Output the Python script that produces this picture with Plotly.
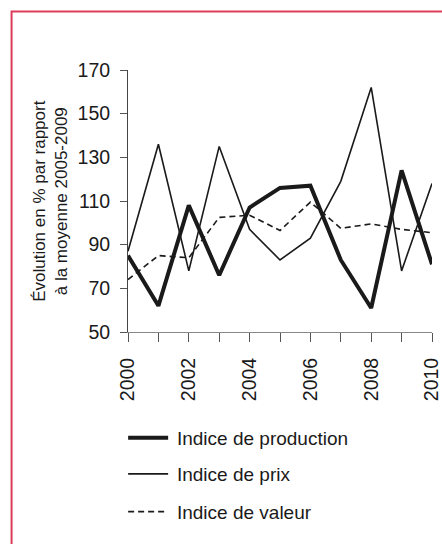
import plotly.graph_objects as go

years = list(range(2000, 2011))
production = [85, 62, 108, 76, 107, 116, 117, 83, 61, 124, 81]
prix = [87, 136, 78, 135, 97, 83, 93, 119, 162, 78, 118]
valeur = [74, 85, 84, 102.5, 103.5, 96.5, 109.5, 97.5, 99.5, 97, 95.5]
tick_text = [str(y) if y % 2 == 0 else "" for y in years]
y_ticks = [50, 70, 90, 110, 130, 150, 170]

FONT = "Arial, Liberation Sans, sans-serif"
TS = "\u2009"

fig = go.Figure()
fig.add_trace(go.Scatter(x=years, y=production, mode="lines", name=TS + "Indice de production",
                         line=dict(color="#1a1a1a", width=4), legend="legend"))
fig.add_trace(go.Scatter(x=years, y=prix, mode="lines", name=TS + "Indice de prix",
                         line=dict(color="#1a1a1a", width=1.6), legend="legend2"))
fig.add_trace(go.Scatter(x=years, y=valeur, mode="lines", name=TS + "Indice de valeur",
                         line=dict(color="#1a1a1a", width=1.6, dash="6px,4px"), legend="legend3"))

leg_common = dict(xref="paper", yref="paper", xanchor="left", yanchor="middle",
                  bgcolor="rgba(0,0,0,0)", borderwidth=0, itemwidth=40,
                  font=dict(family=FONT, size=19, color="#1a1a1a"))

fig.update_layout(
    width=442, height=544,
    margin=dict(l=128, r=10, t=70, b=212, autoexpand=False),
    paper_bgcolor="white", plot_bgcolor="white",
    font=dict(family=FONT, color="#1a1a1a"),
    xaxis=dict(range=[2000, 2010], tickmode="array", tickvals=years, ticktext=tick_text,
               tickangle=-90, ticks="outside", ticklen=9, tickwidth=1, tickcolor="#555",
               showline=True, linecolor="#888", linewidth=1, showgrid=False, zeroline=False,
               tickfont=dict(size=19.5, family=FONT, color="#1a1a1a"), ticklabelstandoff=8,
               ticklabeloverflow="allow", automargin=False),
    yaxis=dict(range=[50, 170], tickmode="array", tickvals=y_ticks,
               ticks="outside", ticklen=7, tickwidth=1, tickcolor="#555",
               showline=True, linecolor="#444", linewidth=1, showgrid=False, zeroline=False,
               tickfont=dict(size=19.5, family=FONT, color="#1a1a1a"), ticklabelstandoff=6,
               automargin=False),
    legend=dict(x=-0.016, y=-0.4046, **leg_common),
    legend2=dict(x=-0.016, y=-0.542, **leg_common),
    legend3=dict(x=-0.016, y=-0.686, **leg_common),
    showlegend=True,
)

fig.add_annotation(text="Évolution en % par rapport<br>à la moyenne 2005-2009",
                   xref="paper", yref="paper", x=-0.257, y=0.5, xanchor="center", yanchor="middle",
                   textangle=-90, showarrow=False,
                   font=dict(family=FONT, size=17, color="#1a1a1a"))

fig.add_shape(type="rect", xref="paper", yref="paper",
              x0=-0.383, y0=-0.9, x1=1.1, y1=1.223,
              line=dict(color="#dc3c58", width=2), fillcolor="rgba(0,0,0,0)", layer="below")

fig.write_html("out.html", config={"displayModeBar": False},
               post_script="document.body.style.margin='0';")
